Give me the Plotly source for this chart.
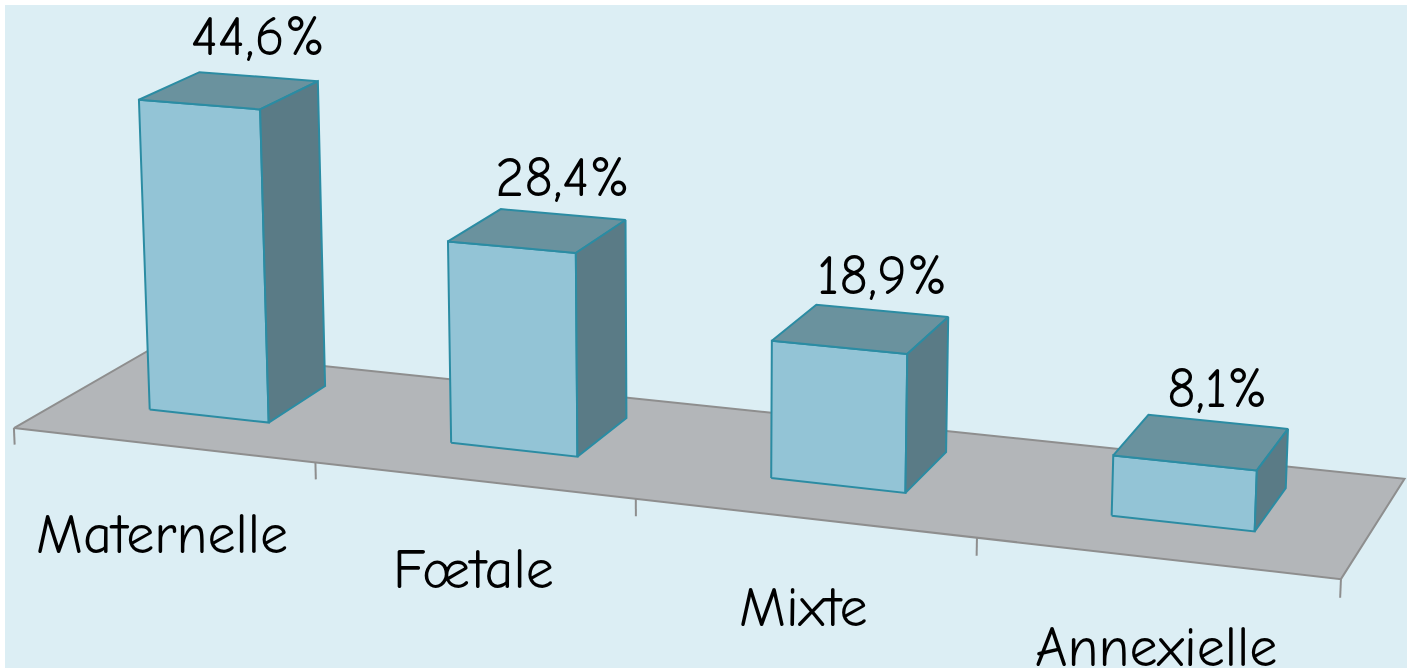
import numpy as np
import plotly.graph_objects as go

categories = ["Maternelle", "Fœtale", "Mixte", "Annexielle"]
values = [44.6, 28.4, 18.9, 8.1]
value_labels = ["44,6%", "28,4%", "18,9%", "8,1%"]

# 3D layout: category axis X in [0, n], depth Z in [0, 1], height Y in percent
BAR_W, BAR_D, BAR_ZC = 0.40181, 0.44402, 0.56144
# perspective camera (3x4 projection matrix, world -> page pixels)
CAMERA = np.array([
    [292.18987, -0.30625505, 148.59517, 13.9173],
    [20.67815, -7.0813145, -56.895079, 428.07578],
    [-0.029503676, -0.0004384928, 0.065861247, 1.0],
])


def proj(X, Y, Z):
    h = CAMERA @ np.array([X, Y, Z, 1.0])
    return h[0] / h[2], h[1] / h[2]


def poly(pts):
    xs, ys = zip(*[proj(*p) for p in pts])
    return list(xs) + [xs[0]], list(ys) + [ys[0]]


fig = go.Figure()

n = len(categories)
# floor
fx, fy = poly([(0, 0, 0), (n, 0, 0), (n, 0, 1), (0, 0, 1)])
fig.add_trace(go.Scatter(x=fx, y=fy, fill="toself", fillcolor="#B3B6B9", mode="lines",
                         line=dict(color="#8E8E8E", width=2), hoverinfo="skip"))
# category ticks
for i in range(n + 1):
    tx, ty = zip(proj(i, 0, 0), proj(i, -2.4, 0))
    fig.add_trace(go.Scatter(x=list(tx), y=list(ty), mode="lines",
                             line=dict(color="#8E8E8E", width=2), hoverinfo="skip"))

edge = "#2B8CA3"
for i, v in enumerate(values):
    x0 = i + 0.5 - BAR_W / 2
    x1 = i + 0.5 + BAR_W / 2
    z0 = BAR_ZC - BAR_D / 2
    z1 = BAR_ZC + BAR_D / 2
    faces = [
        ([(x0, 0, z0), (x1, 0, z0), (x1, v, z0), (x0, v, z0)], "#93C4D6"),
        ([(x0, v, z0), (x1, v, z0), (x1, v, z1), (x0, v, z1)], "#6A929E"),
        ([(x1, 0, z0), (x1, 0, z1), (x1, v, z1), (x1, v, z0)], "#5A7B86"),
    ]
    for pts, col in faces:
        px, py = poly(pts)
        fig.add_trace(go.Scatter(x=px, y=py, fill="toself", fillcolor=col, mode="lines",
                                 line=dict(color=edge, width=2), hoverinfo="skip"))
    lx, _ = proj(i + 0.5, v, z1)
    _, ly = proj(i + 0.5, v, BAR_ZC)
    fig.add_annotation(x=lx, y=ly, text=value_labels[i], showarrow=False, yanchor="bottom",
                       yshift=19, font=dict(size=56, color="black"))
    cx, cy = proj(i + 0.5, 0, 0)
    fig.add_annotation(x=cx, y=cy, text=categories[i], showarrow=False, yanchor="middle",
                       yshift=-90, font=dict(size=56, color="black"))

fig.update_layout(
    width=1414, height=672,
    margin=dict(l=5, r=7, t=5, b=4),
    paper_bgcolor="white", plot_bgcolor="#DCEEF4",
    showlegend=False,
    font=dict(family="Comic Sans MS, Comic Neue, Lato, sans-serif"),
    xaxis=dict(range=[5, 1407], visible=False, fixedrange=True),
    yaxis=dict(range=[668, 5], visible=False, fixedrange=True),
)
fig.write_html("out.html", config={"displayModeBar": False},
               post_script="document.body.style.margin='0';document.body.style.overflow='hidden';")
